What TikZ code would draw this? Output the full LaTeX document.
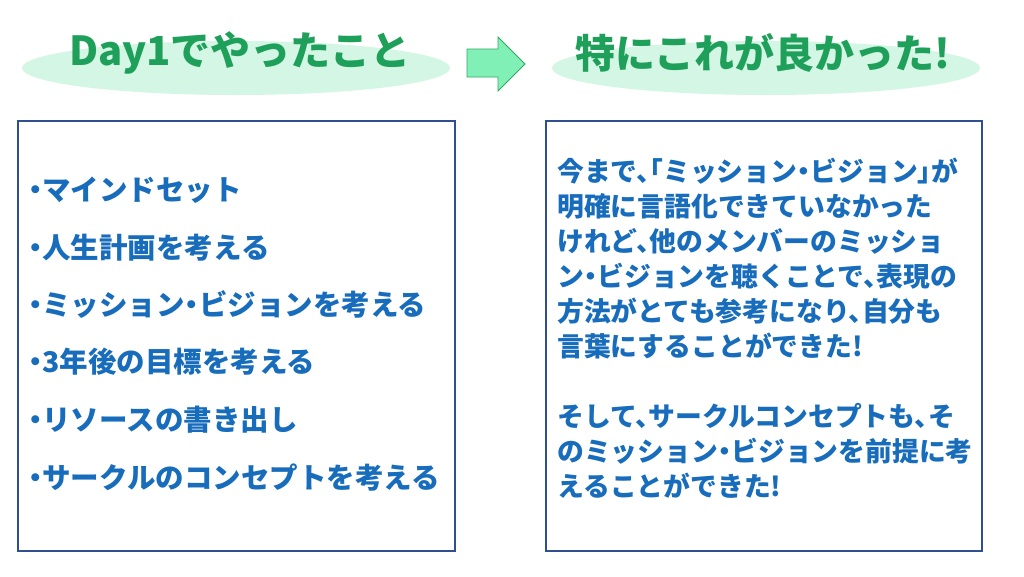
\documentclass[tikz,border=0pt]{standalone}
\usepackage{fontspec}
\newfontfamily\jp{Noto Sans CJK JP}[RawFeature=+halt]
\usetikzlibrary{positioning}
\definecolor{titlegreen}{RGB}{30,160,90}
\definecolor{arrowline}{RGB}{50,170,100}
\definecolor{textblue}{RGB}{24,108,188}
\definecolor{boxblue}{RGB}{47,79,143}
\definecolor{mint}{RGB}{128,240,182}
\definecolor{glow}{RGB}{212,246,228}
\pgfdeclareradialshading{titleglow}{\pgfpoint{0bp}{0bp}}{color(0bp)=(glow); color(28bp)=(glow); color(50bp)=(white)}
\begin{document}
\begin{tikzpicture}[x=1pt,y=-1pt]
\tikzstyle{every node}+=[inner sep=0pt]
\tikzstyle{titletext}=[font=\jp\bfseries\fontsize{40}{46}\selectfont, text=titlegreen]
\tikzstyle{itemtext}=[font=\jp\bfseries\fontsize{28.5}{32}\selectfont, text=textblue, anchor=west]
\tikzstyle{panel}=[draw=boxblue, line width=2.8pt, fill=white]
\useasboundingbox (0,0) rectangle (1024,576);
\fill [white] (0,0) rectangle (1024,576);
\shade [shading=titleglow] (236,68) ellipse (214 and 27);
\shade [shading=titleglow] (766,68) ellipse (214 and 27);
\node [titletext] (done) at (240,53) {Day1でやったこと};
\node [titletext] (good) at (763,53) {特にこれが良かった!};
\filldraw [fill=mint, draw=arrowline, line width=0.8pt] (467,49) -- (498,49) -- (498,37) -- (525,64) -- (498,91) -- (498,77) -- (467,77) -- cycle;
\draw [panel] (18,121) rectangle (455,551);
\draw [panel] (546,121) rectangle (982,551);
\node [itemtext] (mind) at (28,190) {・マインドセット};
\node [itemtext] (life) at (28,248) {・人生計画を考える};
\node [itemtext] (mission) at (28,305) {・ミッション・ビジョンを考える};
\node [itemtext] (goal) at (28,362) {・3年後の目標を考える};
\node [itemtext] (resource) at (28,420) {・リソースの書き出し};
\node [itemtext] (concept) at (28,478) {・サークルのコンセプトを考える};
\node [font=\jp\bfseries\fontsize{26.8}{35}\selectfont, text=textblue, align=left, anchor=north west] (memo) at (557,158) {今まで、「ミッション・ビジョン」が\\明確に言語化できていなかった\\けれど、他のメンバーのミッショ\\ン・ビジョンを聴くことで、表現の\\方法がとても参考になり、自分も\\言葉にすることができた!\\[35pt]そして、サークルコンセプトも、そ\\のミッション・ビジョンを前提に考\\えることができた!};
\end{tikzpicture}
\end{document}
